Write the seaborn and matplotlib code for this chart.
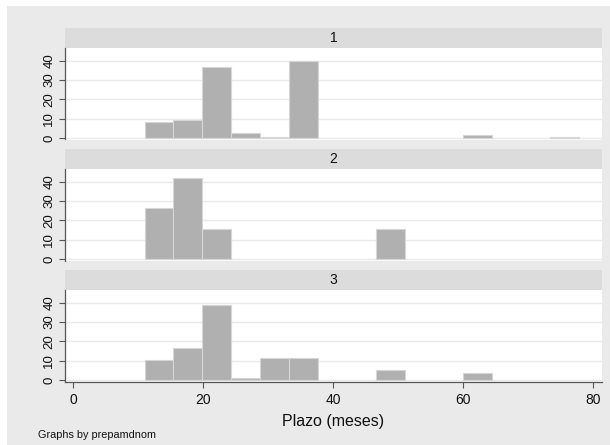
import numpy as np
import pandas as pd
import seaborn as sns
import matplotlib
matplotlib.use("Agg")
import matplotlib.pyplot as plt
from matplotlib.patches import Rectangle

groups = ["1", "2", "3"]
bin_start = 11.0
bin_width = 4.45
n_bins = 15
pct_1 = [8.4, 9.3, 36.9, 2.6, 0.9, 39.6, 0, 0, 0, 0, 0, 1.7, 0, 0, 0.9]
pct_2 = [26.3, 42.1, 15.8, 0, 0, 0, 0, 0, 15.8, 0, 0, 0, 0, 0, 0]
pct_3 = [10.4, 16.9, 39.0, 1.3, 11.7, 11.7, 0, 0, 5.2, 0, 0, 3.9, 0, 0, 0]
x_ticks = [0, 20, 40, 60, 80]
y_ticks = [0, 10, 20, 30, 40]
x_label = "Plazo (meses)"
note = "Graphs by prepamdnom"

edges = bin_start + bin_width * np.arange(n_bins + 1)
centers = (edges[:-1] + edges[1:]) / 2
rows = []
for g, vals in zip(groups, [pct_1, pct_2, pct_3]):
    for c, v in zip(centers, vals):
        rows.append({"group": g, "plazo": c, "pct": v})
df = pd.DataFrame(rows)

sns.set_theme(style="white")
plt.rcParams["font.family"] = ["Liberation Sans", "DejaVu Sans"]

W, H = 610, 445
fig = plt.figure(figsize=(W / 100, H / 100), dpi=100)
fig.patch.set_facecolor("white")
# grey graph region
fig.patches.append(Rectangle((7 / W, 0), 1, (H - 6) / H, transform=fig.transFigure,
                             facecolor="#EAEAEA", edgecolor="none", zorder=-10))

left_px, right_px = 65, 601.7
strip_h = 20
pitch = 121
ax_top0 = 48
ax_h = 91.5

axes = []
for i, g in enumerate(groups):
    top = ax_top0 + pitch * i
    ax = fig.add_axes([left_px / W, 1 - (top + ax_h) / H, (right_px - left_px) / W, ax_h / H])
    ax.set_facecolor("white")
    sub = df[df["group"] == g]
    sns.histplot(data=sub, x="plazo", weights="pct", binwidth=bin_width,
                 binrange=(float(edges[0]), float(edges[-1])), ax=ax,
                 color="#B0B0B0", edgecolor="#D6D6D6", linewidth=0.8, alpha=1, zorder=3)
    # no outline on empty bins
    for p in ax.patches:
        if p.get_height() == 0:
            p.set_linewidth(0)
            p.set_edgecolor("none")
    ax.set_xlim(-1.23, 81.3)
    ax.set_ylim(-0.6, 46.5)
    ax.set_yticks(y_ticks)
    ax.set_yticklabels([str(t) for t in y_ticks], rotation=90, va="center", fontsize=9.5)
    ax.grid(axis="y", color="#EAEAEA", linewidth=1.0, zorder=0)
    ax.grid(axis="x", visible=False)
    ax.set_axisbelow(True)
    ax.set_ylabel("")
    ax.set_xlabel("")
    for s in ["top", "right"]:
        ax.spines[s].set_visible(False)
    ax.spines["left"].set_color("#555555")
    ax.spines["left"].set_linewidth(0.9)
    ax.tick_params(axis="y", left=True, length=4, width=0.8, color="#555555", pad=3, labelcolor="#111111")
    if i < 2:
        ax.spines["bottom"].set_visible(False)
        ax.set_xticks([])
    else:
        ax.spines["bottom"].set_color("#555555")
        ax.spines["bottom"].set_linewidth(0.9)
        ax.set_xticks(x_ticks)
        ax.set_xticklabels([str(t) for t in x_ticks], fontsize=10, color="#111111")
        ax.tick_params(axis="x", bottom=True, length=4, width=0.8, color="#555555", pad=4)
        ax.set_xlabel(x_label, fontsize=11.5, labelpad=5, color="#111111")
    # strip header
    sy = top - strip_h
    fig.patches.append(Rectangle((left_px / W, 1 - top / H), (right_px - left_px) / W, strip_h / H,
                                 transform=fig.transFigure, facecolor="#DCDCDC",
                                 edgecolor="none", zorder=-5))
    fig.text((left_px + right_px) / 2 / W, 1 - (sy + strip_h / 2) / H, g,
             ha="center", va="center", fontsize=10, color="#111111")
    axes.append(ax)

fig.text(38 / W, 1 - 435 / H, note, ha="left", va="center", fontsize=7.8, color="#111111")

fig.savefig("out.png", dpi=100, facecolor=fig.get_facecolor())
